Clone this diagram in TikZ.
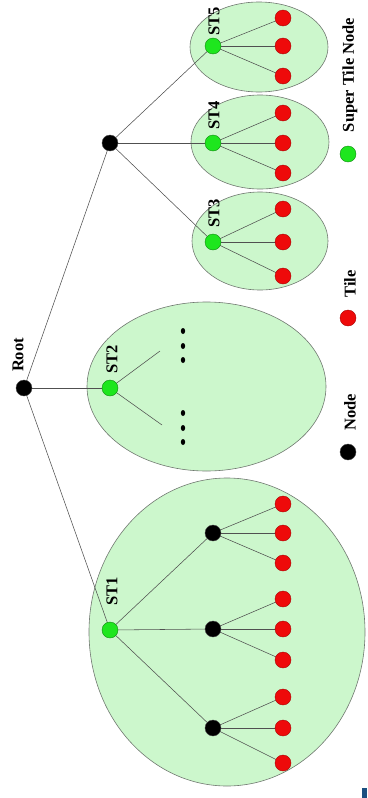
\documentclass[tikz,border=0pt]{standalone}
\usepackage{fontspec}
\setmainfont{Liberation Serif}
\definecolor{stfill}{HTML}{CCF7CC}
\definecolor{stedge}{HTML}{707870}
\definecolor{tilered}{HTML}{EE0A0A}
\definecolor{stgreen}{HTML}{1EE61E}
\definecolor{edgegray}{HTML}{505050}
\definecolor{markblue}{HTML}{1A4F80}
\pgfdeclarelayer{regions}
\pgfdeclarelayer{links}
\pgfsetlayers{regions,links,main}
\tikzset{
  region/.style={draw=stedge, fill=stfill, line width=0.6pt},
  link/.style={draw=edgegray, line width=0.55pt},
  dot/.style={circle, minimum size=16pt, inner sep=0pt, draw=black!70, line width=0.4pt},
  plainnode/.style={dot, fill=black},
  tilenode/.style={dot, fill=tilered, draw=tilered!70!black},
  supernode/.style={dot, fill=stgreen, draw=stgreen!60!black},
  lbl/.style={rotate=90, font=\bfseries\fontsize{16.5}{16.5}\selectfont, inner sep=0pt}
}
\begin{document}
\begin{tikzpicture}[x=1pt, y=-1pt]
  \useasboundingbox (0,0) rectangle (367,798);

  % super tile regions
  \begin{pgfonlayer}{regions}
    \draw[region] (259,47) ellipse [x radius=69, y radius=45];
    \draw[region] (260,142) ellipse [x radius=69, y radius=47];
    \draw[region] (260,241) ellipse [x radius=68, y radius=49];
    \draw[region] (206.5,386.5) ellipse [x radius=119.5, y radius=84.5];
    \draw[region] (227,632) ellipse [x radius=138, y radius=154];
  \end{pgfonlayer}

  % tree nodes
  \node[plainnode] (root) at (24,388) {};
  \node[plainnode] (n1) at (110,143) {};

  \node[supernode] (st5) at (213,46) {};
  \node[supernode] (st4) at (213,143) {};
  \node[supernode] (st3) at (213,242) {};
  \node[supernode] (st2) at (110,388) {};
  \node[supernode] (st1) at (110,630) {};

  \node[tilenode] (t5a) at (283,18) {};
  \node[tilenode] (t5b) at (283,46) {};
  \node[tilenode] (t5c) at (283,76) {};
  \node[tilenode] (t4a) at (283,113) {};
  \node[tilenode] (t4b) at (283,143) {};
  \node[tilenode] (t4c) at (283,173) {};
  \node[tilenode] (t3a) at (283,209) {};
  \node[tilenode] (t3b) at (283,242) {};
  \node[tilenode] (t3c) at (283,276) {};

  \node[plainnode] (s1a) at (213,533) {};
  \node[plainnode] (s1b) at (213,629) {};
  \node[plainnode] (s1c) at (213,728) {};

  \node[tilenode] (t1a) at (283,504) {};
  \node[tilenode] (t1b) at (283,533) {};
  \node[tilenode] (t1c) at (283,563) {};
  \node[tilenode] (t1d) at (283,599) {};
  \node[tilenode] (t1e) at (283,629) {};
  \node[tilenode] (t1f) at (283,660) {};
  \node[tilenode] (t1g) at (283,697) {};
  \node[tilenode] (t1h) at (283,728) {};
  \node[tilenode] (t1i) at (283,763) {};

  \coordinate (st2up) at (160,351);
  \coordinate (st2dn) at (162,425);

  % connectors, kept beneath the discs
  \begin{pgfonlayer}{links}
    \foreach \s/\t in {root/n1,root/st2,root/st1,n1/st5,n1/st4,n1/st3,
                       st5/t5a,st5/t5b,st5/t5c,st4/t4a,st4/t4b,st4/t4c,st3/t3a,st3/t3b,st3/t3c,
                       st1/s1a,st1/s1b,st1/s1c,s1a/t1a,s1a/t1b,s1a/t1c,s1b/t1d,s1b/t1e,s1b/t1f,
                       s1c/t1g,s1c/t1h,s1c/t1i}
      \path[link] (\s.center) -- (\t.center);
    \path[link] (st2.center) -- (st2up);
    \path[link] (st2.center) -- (st2dn);
  \end{pgfonlayer}

  % elided children of ST2
  \foreach \y in {331,346,360,413,428,442}
    \fill (183,\y) ellipse [x radius=2.2, y radius=3];

  % labels
  \node[lbl] (lroot) at (18,355) {Root};
  \node[lbl] (lst5) at (214,21) {ST5};
  \node[lbl] (lst4) at (214,115) {ST4};
  \node[lbl] (lst3) at (214,213) {ST3};
  \node[lbl] (lst2) at (112,359) {ST2};
  \node[lbl] (lst1) at (112,591) {ST1};

  % legend
  \node[supernode] (legs) at (348,154) {};
  \node[lbl] (legst) at (350,75) {Super Tile Node};
  \node[tilenode] (legt) at (348,318) {};
  \node[lbl] (legtt) at (350,284) {Tile};
  \node[plainnode] (legn) at (348,452) {};
  \node[lbl] (legnt) at (350,412) {Node};

  % small mark in the corner
  \fill[markblue] (362,788) rectangle (367,798);
\end{tikzpicture}
\end{document}
